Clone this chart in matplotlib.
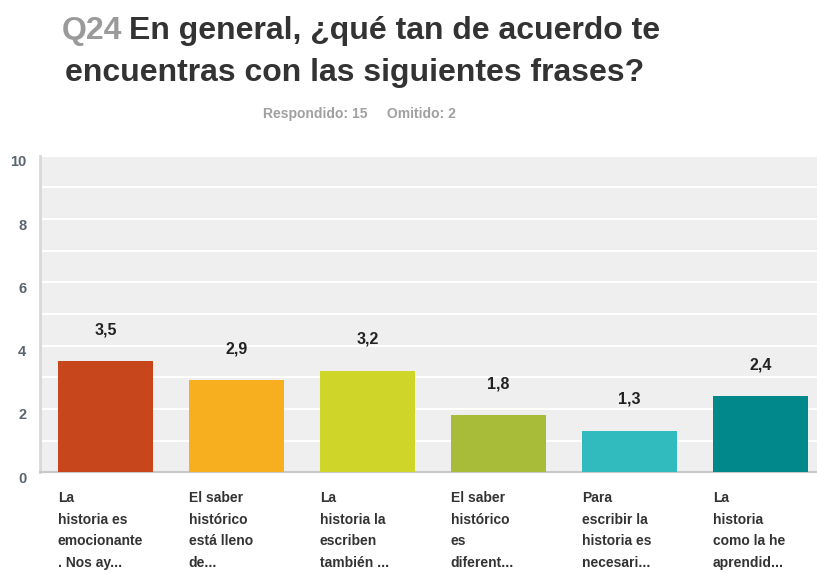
import matplotlib.pyplot as plt
import matplotlib.transforms as mtransforms

plt.rcParams['font.family'] = ['Liberation Sans', 'DejaVu Sans']

categories = [
    "La\nhistoria es\nemocionante\n. Nos ay...",
    "El saber\nhistórico\nestá lleno\nde...",
    "La\nhistoria la\nescriben\ntambién ...",
    "El saber\nhistórico\nes\ndiferent...",
    "Para\nescribir la\nhistoria es\nnecesari...",
    "La\nhistoria\ncomo la he\naprendid...",
]
values = [3.5, 2.9, 3.2, 1.8, 1.3, 2.4]
value_labels = ["3,5", "2,9", "3,2", "1,8", "1,3", "2,4"]
colors = ["#C8461C", "#F7AE1F", "#D0D52A", "#A9BC3A", "#32BBBE", "#00888A"]

fig = plt.figure(figsize=(8.17, 5.73), dpi=100)
ax = fig.add_axes([0.049, 0.176, 0.951, 0.552])
ax.set_facecolor('#efefef')

x = list(range(len(values)))
width = 0.73
ax.bar(x, values, width=width, color=colors, zorder=3)

# value labels above each bar
for i, v in enumerate(values):
    ax.text(i, v + 1.0, value_labels[i], ha='center', va='center',
            fontsize=11.5, fontweight='bold', color='#222222')

# category labels, left aligned under each bar
for i, c in enumerate(categories):
    ax.text(i - width / 2, -0.6, c, ha='left', va='top', fontsize=10,
            fontweight='bold', color='#333333', linespacing=1.68, clip_on=False)

ax.set_xlim(-0.5, 5.43)
ax.set_ylim(0, 10)
ax.set_yticks([0, 2, 4, 6, 8, 10])
ax.set_yticks(range(11), minor=True)
ax.tick_params(axis='y', length=0, which='both', labelsize=10.5, labelcolor='#5a6470', pad=10)
shift = mtransforms.ScaledTranslation(0, -5 / 100, fig.dpi_scale_trans)
for lbl in ax.get_yticklabels():
    lbl.set_fontweight('bold')
    lbl.set_transform(lbl.get_transform() + shift)
ax.set_xticks([])
ax.grid(axis='y', which='both', color='white', linewidth=1.5, zorder=0)
ax.set_axisbelow(True)

for s in ['top', 'right']:
    ax.spines[s].set_visible(False)
ax.spines['left'].set_color('#d8d8d8')
ax.spines['left'].set_linewidth(2)
ax.spines['bottom'].set_color('#c8c8c8')
ax.spines['bottom'].set_linewidth(1.5)

# title
fig.text(0.076, 0.946, "Q24", fontsize=23, fontweight='bold', color='#9a9a9a', va='center')
fig.text(0.158, 0.946, "En general, ¿qué tan de acuerdo te", fontsize=23, fontweight='bold',
         color='#333333', va='center')
fig.text(0.079, 0.873, "encuentras con las siguientes frases?", fontsize=23, fontweight='bold',
         color='#333333', va='center')
fig.text(0.44, 0.801, "Respondido: 15     Omitido: 2", fontsize=10, fontweight='bold',
         color='#a0a0a0', ha='center', va='center')

fig.savefig('out.png', dpi=100)
